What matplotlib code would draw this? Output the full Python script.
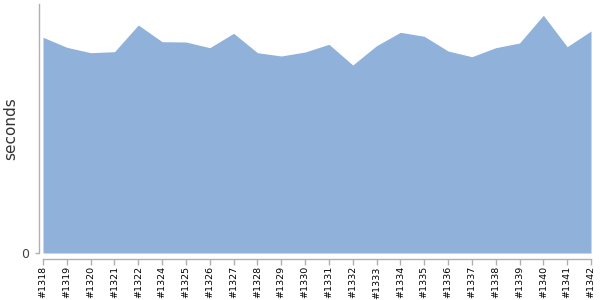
import numpy as np
import matplotlib
matplotlib.use("Agg")
import matplotlib.pyplot as plt

# build labels (#1323 is missing from the history)
builds = ["#1318", "#1319", "#1320", "#1321", "#1322", "#1324", "#1325",
          "#1326", "#1327", "#1328", "#1329", "#1330", "#1331", "#1332",
          "#1333", "#1334", "#1335", "#1336", "#1337", "#1338", "#1339",
          "#1340", "#1341", "#1342"]
# build duration in seconds
durations = [21.57, 20.57, 20.03, 20.13, 22.80, 21.13, 21.10, 20.53, 21.97,
             20.03, 19.70, 20.10, 20.87, 18.80, 20.73, 22.07, 21.67, 20.20,
             19.63, 20.53, 21.00, 23.77, 20.63, 22.20]

fill_color = "#8fb1da"
axis_color = "#b0b0b0"

fig = plt.figure(figsize=(6, 3), dpi=100)
ax = fig.add_axes([43 / 600, 47 / 300, 548 / 600, 249 / 300])

# spine positions first: set_position resets the tick objects
for side in ["top", "right"]:
    ax.spines[side].set_visible(False)
ax.spines["left"].set_position(("outward", 3))
ax.spines["bottom"].set_position(("outward", 4))
for side in ["left", "bottom"]:
    ax.spines[side].set_color(axis_color)
    ax.spines[side].set_linewidth(1)

x = np.arange(len(builds))
ax.fill_between(x, 0, durations, color=fill_color, linewidth=0)

ax.set_xlim(0, len(builds) - 1)
ax.set_ylim(0, 24.9)

ax.set_xticks(x)
ax.set_xticklabels(builds, rotation=90, fontsize=6.8, color="black")
ax.set_yticks([0])
ax.set_yticklabels(["0"], fontsize=9, color="#444444")
ax.set_ylabel("seconds", fontsize=11, color="#333333", labelpad=2)

ax.tick_params(axis="x", length=4, width=1, color=axis_color, pad=1.5)
ax.tick_params(axis="y", length=3, width=1, color=axis_color, pad=4)

fig.savefig("out.png", dpi=100)
